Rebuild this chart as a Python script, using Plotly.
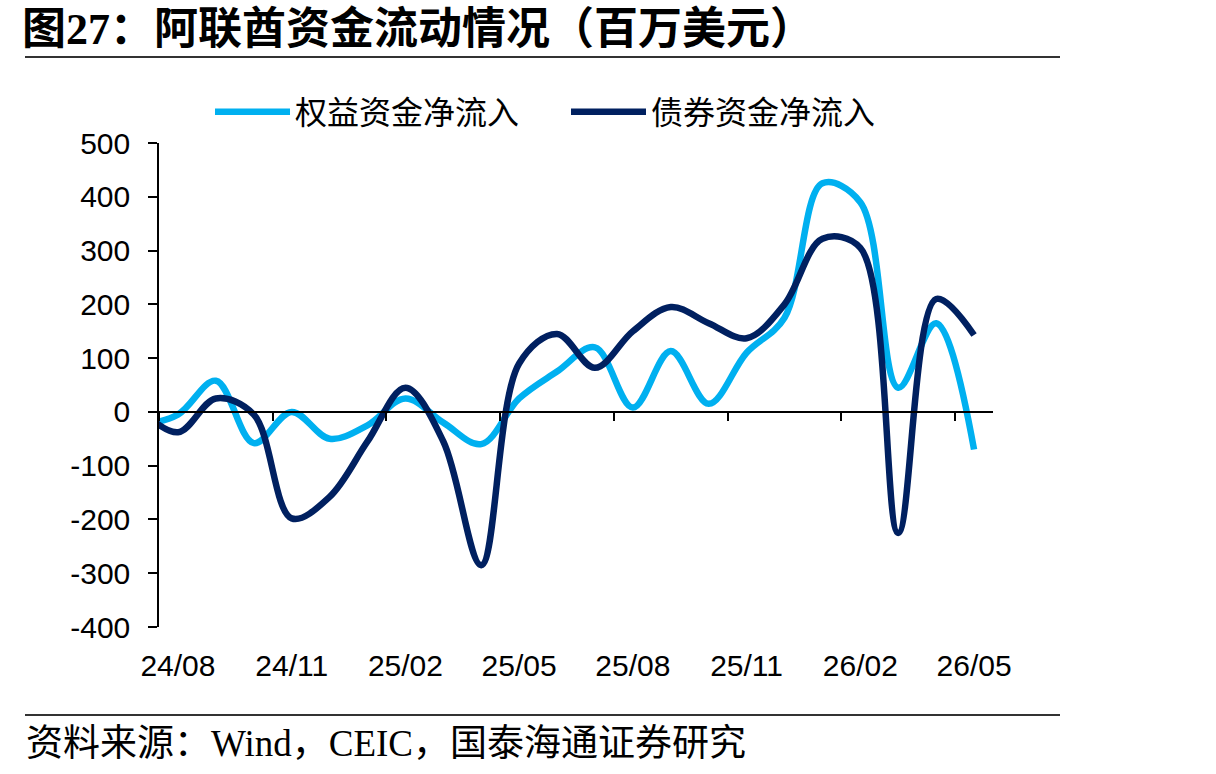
import plotly.graph_objects as go

# ---------------- data ----------------
months = ["24/07", "24/08", "24/09", "24/10", "24/11", "24/12",
          "25/01", "25/02", "25/03", "25/04", "25/05", "25/06",
          "25/07", "25/08", "25/09", "25/10", "25/11", "25/12",
          "26/01", "26/02", "26/03", "26/04", "26/05"]
equity = [-25, -5, 58, -58, 0, -50, -25, 25, -20, -60, 25, 75,
          120, 8, 113, 15, 110, 175, 425, 390, 45, 165, -70]
bond = [5, -38, 25, -5, -198, -158, -55, 45, -55, -285, 90, 145,
        82, 150, 195, 165, 137, 200, 322, 305, -225, 210, 143]
label_months = ["24/08", "24/11", "25/02", "25/05", "25/08", "25/11", "26/02", "26/05"]
y_ticks = [-400, -300, -200, -100, 0, 100, 200, 300, 400, 500]
series_names = ["权益资金净流入", "债券资金净流入"]
colors = ["#00B0F0", "#002060"]

title_text = "图27：阿联酋资金流动情况（百万美元）"
source_text = "资料来源：Wind，CEIC，国泰海通证券研究"

# ---------------- layout geometry ----------------
W, H = 1216, 774
ML, MR, MT, MB = 159, 223, 143, 147
PW, PH = W - ML - MR, H - MT - MB


def px_x(px):
    return (px - ML) / PW


def px_y(py):
    return (H - MB - py) / PH


base = months.index(label_months[0])
xs = [i - base for i in range(len(months))]
x_range = [-0.5, len(months) - 1 - base + 0.5]
label_pos = [months.index(m) - base for m in label_months]
boundary_ticks = [v - 0.5 for v in label_pos]
y_range = [y_ticks[0], y_ticks[-1]]
zero_pos = (0 - y_range[0]) / (y_range[1] - y_range[0])

cjk = "Noto Sans CJK SC"
latin = "Liberation Sans, Arial"
serif = "Liberation Serif, " + cjk

fig = go.Figure()
for name, vals, col in zip(series_names, [equity, bond], colors):
    fig.add_trace(go.Scatter(
        x=xs, y=vals, name=name, mode="lines",
        line=dict(color=col, width=6.5, shape="spline", smoothing=1.0),
        hoverinfo="skip",
    ))
# helper trace so the zero-line axis exists
fig.add_trace(go.Scatter(x=[None], y=[None], xaxis="x2", yaxis="y",
                         showlegend=False, hoverinfo="skip"))

fig.update_layout(
    width=W, height=H, autosize=False,
    margin=dict(l=ML, r=MR, t=MT, b=MB, pad=0),
    paper_bgcolor="white", plot_bgcolor="white",
    font=dict(family=latin, size=29, color="black"),
    title=dict(
        text="<b>" + title_text + "</b>",
        font=dict(family=serif, size=44, color="black"),
        x=22 / W, xanchor="left", xref="container",
        y=1 - 29 / H, yanchor="middle", yref="container",
    ),
    xaxis=dict(
        range=x_range, tickmode="array", tickvals=label_pos, ticktext=label_months,
        ticks="", showline=False, showgrid=False, zeroline=False,
        ticklabelstandoff=18,
        tickfont=dict(family=latin, size=30, color="black"),
    ),
    xaxis2=dict(
        overlaying="x", anchor="free", position=zero_pos, side="bottom",
        range=x_range, tickmode="array", tickvals=boundary_ticks,
        ticks="outside", ticklen=8, tickwidth=1.5, tickcolor="black",
        showticklabels=False, showline=True, linewidth=1.5, linecolor="black",
        showgrid=False, zeroline=False,
    ),
    yaxis=dict(
        range=y_range, tickmode="array", tickvals=y_ticks,
        ticktext=[str(v) for v in y_ticks],
        ticks="outside", ticklen=9, tickwidth=1.5, tickcolor="black",
        showline=True, linewidth=1.5, linecolor="black",
        showgrid=False, zeroline=False, ticklabelstandoff=12,
        tickfont=dict(family=latin, size=30, color="black"),
    ),
    legend=dict(
        orientation="h", x=px_x(210), y=px_y(112),
        xanchor="left", yanchor="middle",
        font=dict(family=cjk, size=32, color="black"),
        entrywidth=266, entrywidthmode="pixels", itemwidth=75,
        bgcolor="rgba(0,0,0,0)", traceorder="normal",
    ),
    showlegend=True,
)

# rules under title and above source
for py in (57, 715):
    fig.add_shape(type="line", xref="paper", yref="paper",
                  x0=px_x(25), x1=px_x(1060), y0=px_y(py), y1=px_y(py),
                  line=dict(color="#333333", width=2))

fig.add_annotation(
    text=source_text, xref="paper", yref="paper",
    x=px_x(24), y=px_y(743), xanchor="left", yanchor="middle",
    showarrow=False,
    font=dict(family=serif, size=37, color="black"),
)

fig.write_html("out.html")
